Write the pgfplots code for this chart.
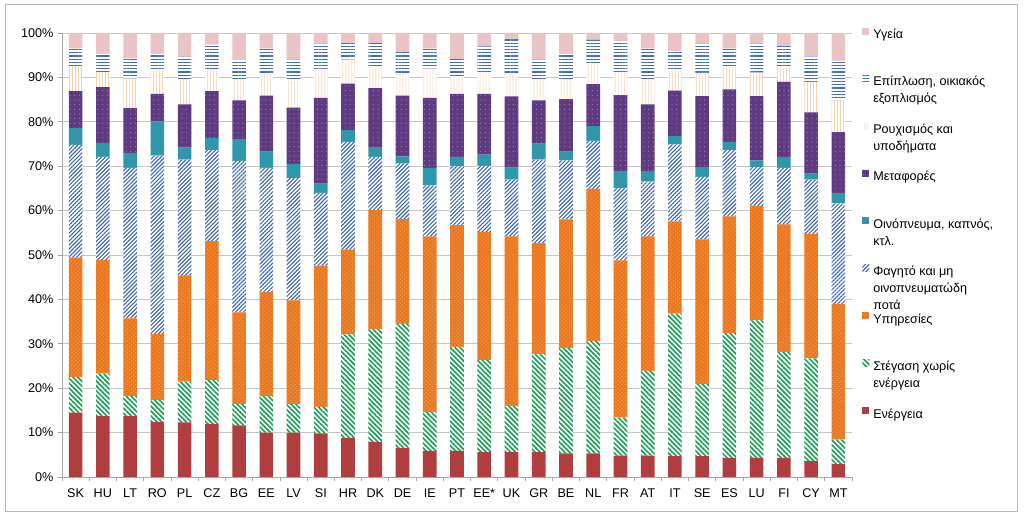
\documentclass[border=0pt]{standalone}
\usepackage{fontspec}
\setmainfont{Liberation Sans}
\usepackage{pgfplots}
\usepackage{pgfplotstable}
\pgfplotsset{compat=1.18}
\usetikzlibrary{patterns,patterns.meta}

\definecolor{cEn}{RGB}{176,62,62}
\definecolor{cHo}{RGB}{30,160,90}
\definecolor{cSe}{RGB}{234,120,32}
\definecolor{cSeL}{RGB}{244,155,80}
\definecolor{cFo}{RGB}{66,104,182}
\definecolor{cAl}{RGB}{48,150,170}
\definecolor{cTr}{RGB}{95,58,128}
\definecolor{cTrL}{RGB}{150,125,180}
\definecolor{cCl}{RGB}{250,205,165}
\definecolor{cFu}{RGB}{62,108,192}
\definecolor{cHe}{RGB}{234,196,196}

\pgfplotstableread{
x lab E H S F A T C U He
0 SK 14.5 8.0 26.9 25.4 3.8 8.3 5.6 4.0 3.5
1 HU 13.7 9.6 25.6 23.2 3.1 12.6 3.4 4.1 4.7
2 LT 13.7 4.5 17.5 33.9 3.4 10.1 6.6 4.5 5.8
3 RO 12.4 4.9 14.9 40.2 7.7 6.2 5.3 3.7 4.7
4 PL 12.3 9.2 23.9 26.1 2.7 9.7 5.7 5.1 5.3
5 CZ 11.9 9.9 31.3 20.5 2.8 10.5 4.9 5.6 2.6
6 BG 11.6 4.8 20.7 34.1 4.9 8.7 4.8 4.3 6.1
7 EE 10.0 8.2 23.5 27.9 3.7 12.6 4.9 5.7 3.5
8 LV 10.0 6.4 23.4 27.5 3.2 12.7 6.1 4.7 6.0
9 SI 9.8 6.0 31.8 16.4 2.1 19.3 6.5 5.7 2.4
10 HR 8.8 23.3 19.1 24.3 2.6 10.5 5.4 3.7 2.3
11 DK 7.9 25.4 26.8 12.0 2.2 13.3 4.6 5.5 2.3
12 DE 6.5 28.0 23.6 12.5 1.6 13.7 4.9 4.9 4.3
13 IE 5.9 8.7 39.6 11.5 3.9 15.8 6.6 4.5 3.5
14 PT 5.9 23.4 27.4 13.3 2.1 14.2 3.8 4.0 5.9
15 EE* 5.6 20.7 28.9 14.9 2.5 13.7 4.9 5.8 3.0
16 UK 5.6 10.4 38.2 12.8 2.7 16.0 5.1 7.9 1.3
17 GR 5.6 22.0 25.1 18.8 3.6 9.7 4.8 4.4 6.0
18 BE 5.3 23.8 28.9 13.3 2.0 11.8 4.5 5.7 4.7
19 NL 5.3 25.3 34.3 10.8 3.3 9.5 4.6 5.4 1.5
20 FR 4.8 8.6 35.4 16.2 3.9 17.1 5.2 7.0 1.8
21 AT 4.8 19.1 30.3 12.3 2.4 15.0 5.6 7.0 3.5
22 IT 4.7 32.1 20.8 17.3 1.9 10.2 4.4 4.5 4.1
23 SE 4.7 16.2 32.6 14.1 2.2 16.0 5.2 6.6 2.4
24 ES 4.3 28.1 26.3 14.9 1.9 11.8 5.0 4.2 3.5
25 LU 4.3 31.0 25.8 8.7 1.5 14.5 5.3 6.5 2.4
26 FI 4.3 23.9 28.7 12.7 2.5 16.9 3.2 4.9 2.9
27 CY 3.6 23.1 28.0 12.3 1.3 13.8 6.9 5.7 5.3
28 MT 2.9 5.5 30.6 22.6 2.4 13.7 7.1 8.9 6.3
}\datatable

\newcommand{\LE}[1]{\parbox[t]{115bp}{\raggedright #1}}

\begin{document}
\begin{tikzpicture}
\useasboundingbox (0,0) rectangle (768bp,390bp);
\draw[gray!55, line width=0.75bp] (3.75bp,6bp) rectangle (762.75bp,386.25bp);
\begin{axis}[
  at={(46.5bp,32.25bp)}, anchor=south west,
  scale only axis, width=592.5bp, height=333bp,
  ybar stacked, bar width=0.5,
  xmin=-0.5, xmax=28.5, ymin=0, ymax=100,
  enlargelimits=false,
  xtick={-0.5,0.5,...,28.5},
  x tick label as interval,
  xticklabels={SK,HU,LT,RO,PL,CZ,BG,EE,LV,SI,HR,DK,DE,IE,PT,EE*,UK,GR,BE,NL,FR,AT,IT,SE,ES,LU,FI,CY,MT},
  ytick={0,10,...,100},
  yticklabels={0\%,10\%,20\%,30\%,40\%,50\%,60\%,70\%,80\%,90\%,100\%},
  /pgf/number format/assume math mode=true,
  tick label style={font=\fontsize{9.5}{11}\selectfont, black},
  xticklabel style={yshift=-2bp},
  tick align=outside, major tick length=3bp,
  tick style={gray!70, line width=0.6bp},
  axis x line*=bottom, axis y line*=left,
  axis line style={gray!70, line width=0.6bp, -},
  ymajorgrids, major grid style={gray!45, line width=0.6bp},
  xmajorgrids=false,
  legend image code/.code={\path[#1, draw=none] (0bp,0bp) rectangle (5.25bp,5.25bp);
     \pgfpathmoveto{\pgfqpoint{0bp}{-28.6bp}}\pgfpathlineto{\pgfqpoint{0bp}{7bp}}\pgfusepath{}},
  reverse legend,
  legend cell align=left,
  legend style={at={(1,1)}, anchor=north west, xshift=7.5bp, yshift=6bp,
    draw=none, fill=none, inner sep=0pt, row sep=0pt,
    font=\fontsize{9.5}{12.75}\selectfont,
    nodes={inner sep=0pt},
    /tikz/every odd column/.append style={column sep=3bp}},
]
\addplot[draw=none, fill=cEn] table[x=x, y=E] {\datatable};
\addlegendentry{\LE{Ενέργεια}}
\addplot[draw=none, fill=white, postaction={pattern={Lines[angle=-45,distance=2.6bp,line width=1.25bp]}, pattern color=cHo}] table[x=x, y=H] {\datatable};
\addlegendentry{\LE{Στέγαση χωρίς\\ενέργεια}}
\addplot[draw=none, fill=cSe, postaction={pattern=crosshatch dots, pattern color=cSeL}] table[x=x, y=S] {\datatable};
\addlegendentry{\LE{Υπηρεσίες}}
\addplot[draw=none, fill=white, postaction={pattern={Lines[angle=45,distance=2.1bp,line width=0.85bp]}, pattern color=cFo}] table[x=x, y=F] {\datatable};
\addlegendentry{\LE{Φαγητό και μη\\οινοπνευματώδη\\ποτά}}
\addplot[draw=none, fill=cAl] table[x=x, y=A] {\datatable};
\addlegendentry{\LE{Οινόπνευμα, καπνός,\\κτλ.}}
\addplot[draw=none, fill=cTr, postaction={pattern={Dots[distance=3.5bp,radius=0.45bp]}, pattern color=cTrL}] table[x=x, y=T] {\datatable};
\addlegendentry{\LE{Μεταφορές}}
\addplot[draw=none, fill=white, postaction={pattern={Lines[angle=90,distance=2.25bp,line width=0.7bp]}, pattern color=cCl}] table[x=x, y=C] {\datatable};
\addlegendentry{\LE{Ρουχισμός και\\υποδήματα}}
\addplot[draw=none, fill=white, postaction={pattern={Lines[angle=0,distance=2.4bp,line width=0.9bp]}, pattern color=cFu}] table[x=x, y=U] {\datatable};
\addlegendentry{\LE{Επίπλωση, οικιακός\\εξοπλισμός}}
\addplot[draw=none, fill=cHe] table[x=x, y=He] {\datatable};
\addlegendentry{\LE{Υγεία}}
\end{axis}
\end{tikzpicture}
\end{document}
